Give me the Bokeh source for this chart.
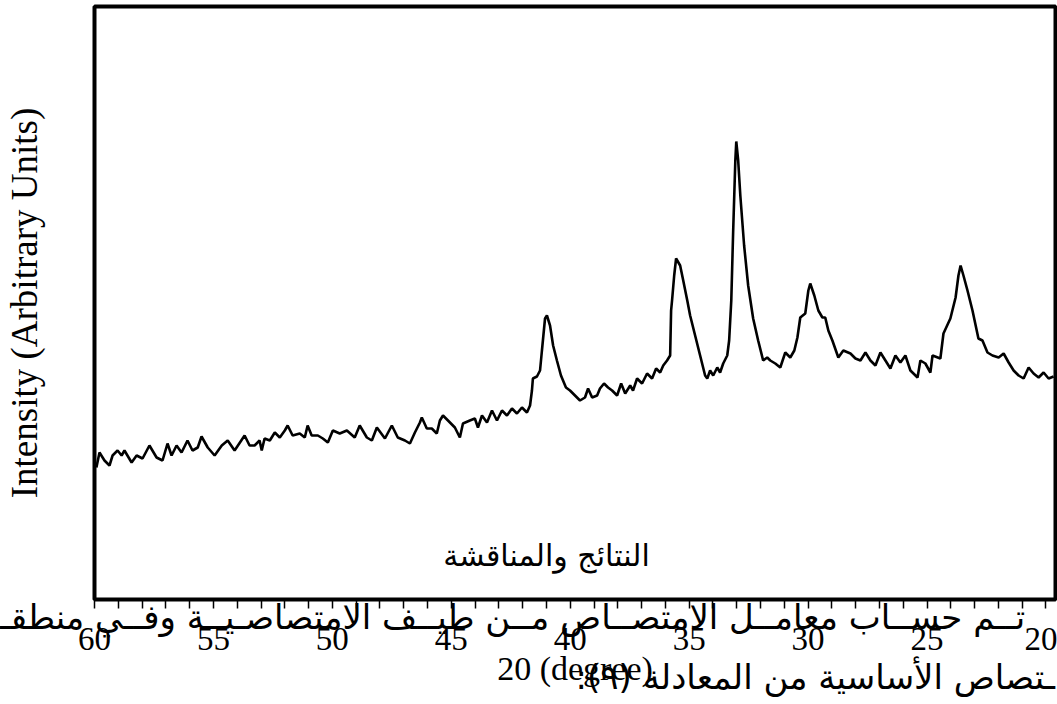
from bokeh.plotting import figure
from bokeh.models import Range1d, FixedTicker, Label, ColumnDataSource, LinearAxis
from bokeh.embed import file_html
from bokeh.resources import INLINE

# ---- data (2theta in degrees, intensity in arbitrary units) ----
two_theta = [
    59.92, 59.79, 59.58, 59.37, 59.24, 59.03, 58.86, 58.74, 58.44, 58.23, 57.98, 57.69,
    57.39, 57.14, 56.93, 56.76, 56.55, 56.34, 56.09, 55.88, 55.66, 55.50, 55.24, 54.95,
    54.65, 54.40, 54.11, 53.69, 53.48, 53.27, 53.06, 52.97, 52.85, 52.63, 52.42, 52.21,
    52.00, 51.88, 51.67, 51.37, 51.16, 51.04, 50.87, 50.61, 50.40, 50.19, 49.98, 49.69,
    49.39, 49.06, 48.85, 48.55, 48.34, 48.13, 47.79, 47.50, 47.25, 46.95, 46.74, 46.53,
    46.32, 46.24, 46.03, 45.82, 45.61, 45.48, 45.35, 45.14, 44.85, 44.64, 44.51, 44.22,
    44.01, 43.88, 43.71, 43.50, 43.29, 43.08, 42.87, 42.66, 42.45, 42.24, 42.03, 41.82,
    41.69, 41.61, 41.57, 41.40, 41.27, 41.19, 41.06, 40.98, 40.85, 40.72, 40.56, 40.39,
    40.18, 40.01, 39.80, 39.59, 39.38, 39.25, 39.08, 38.87, 38.75, 38.58, 38.41, 38.24,
    38.03, 37.86, 37.69, 37.48, 37.36, 37.19, 36.98, 36.77, 36.56, 36.39, 36.22, 36.09,
    35.93, 35.80, 35.76, 35.72, 35.63, 35.55, 35.38, 35.25, 35.08, 34.96, 34.75, 34.54,
    34.33, 34.24, 34.12, 33.99, 33.82, 33.70, 33.57, 33.40, 33.32, 33.23, 33.15, 33.06,
    33.02, 32.94, 32.85, 32.69, 32.52, 32.31, 32.10, 31.89, 31.72, 31.59, 31.38, 31.17,
    30.96, 30.75, 30.58, 30.45, 30.33, 30.12, 29.99, 29.91, 29.74, 29.57, 29.40, 29.28,
    29.15, 28.98, 28.73, 28.52, 28.22, 28.01, 27.80, 27.59, 27.38, 27.17, 26.96, 26.75,
    26.54, 26.33, 26.12, 25.91, 25.70, 25.40, 25.28, 25.07, 24.86, 24.77, 24.44, 24.31,
    24.02, 23.80, 23.68, 23.59, 23.47, 23.30, 23.09, 22.84, 22.67, 22.46, 22.25, 21.99,
    21.78, 21.57, 21.36, 21.15, 20.94, 20.73, 20.52, 20.31, 20.10, 19.89, 19.68,
]
intensity = [
    131, 146, 138, 133, 143, 148, 143, 148, 136, 143, 140, 153,
    141, 138, 155, 143, 153, 146, 158, 148, 151, 162, 151, 143,
    153, 158, 148, 163, 153, 153, 158, 148, 160, 158, 166, 161,
    168, 173, 163, 165, 161, 173, 163, 163, 160, 156, 168, 165,
    168, 161, 173, 161, 158, 171, 160, 173, 161, 158, 155, 166,
    176, 181, 170, 170, 165, 178, 183, 178, 171, 161, 175, 178,
    180, 171, 183, 176, 188, 178, 188, 183, 190, 185, 191, 186,
    193, 208, 220, 222, 228, 248, 280, 283, 273, 253, 238, 223,
    211, 208, 203, 198, 201, 210, 201, 203, 210, 215, 211, 208,
    203, 215, 205, 213, 208, 220, 215, 225, 220, 230, 226, 233,
    238, 243, 288, 298, 323, 340, 333, 318, 298, 283, 263, 243,
    223, 220, 228, 223, 231, 226, 235, 243, 258, 298, 368, 438,
    457, 438, 403, 353, 313, 280, 258, 238, 241, 238, 235, 231,
    246, 241, 248, 261, 281, 285, 308, 315, 303, 288, 281, 281,
    268, 258, 241, 248, 245, 240, 238, 246, 238, 233, 246, 238,
    230, 243, 236, 243, 228, 221, 238, 235, 226, 243, 240, 265,
    280, 301, 323, 333, 323, 308, 288, 260, 258, 246, 243, 241,
    245, 236, 228, 223, 220, 231, 225, 221, 226, 220, 222,
]
major_ticks = [60, 55, 50, 45, 40, 35, 30, 25, 20]
degree_marks = list(range(20, 61))
x_title = "20 (degree)"
y_title = "Intensity (Arbitrary Units)"
heading = "النتائج والمناقشة"
body_line1 = "تــم حســاب معامــل الامتصــاص مــن طيــف الامتصاصـيــة وفــي منطقــة"
body_line2 = "ـتصاص الأساسية من المعادلة (٩):\u200f"
line1_anchor = 43      # 2theta tick that carries the first page line
line2_anchor = 29.7    # 2theta tick that carries the second page line

W, H = 1057, 704
p = figure(width=W, height=H, output_backend="svg", toolbar_location=None,
           x_range=Range1d(60, 19.6), y_range=Range1d(-1, 592),
           min_border_left=94, min_border_right=2, min_border_top=6,
           min_border_bottom=105)
p.background_fill_color = "white"
p.border_fill_color = "white"
p.grid.visible = False
p.outline_line_color = "black"
p.outline_line_width = 4

src = ColumnDataSource(dict(x=two_theta, y=intensity))
p.line("x", "y", source=src, line_color="black", line_width=2.6)

# axis A: degree tick marks + first page line of text (overlapping, as in the scan)
axA = p.xaxis[0]
axA.ticker = FixedTicker(ticks=degree_marks)
axA.axis_line_color = None
axA.major_tick_in = 0
axA.major_tick_out = 9
axA.minor_tick_line_color = None
axA.major_tick_line_color = "black"
axA.major_tick_line_width = 1.5
axA.major_label_overrides = {t: "" for t in degree_marks if t != line1_anchor} | {line1_anchor: body_line1}
axA.major_label_text_font = "DejaVu Sans"
axA.major_label_text_font_size = "34px"
axA.major_label_text_color = "black"
axA.major_label_standoff = -12

# axis B: numeric tick labels and axis title
axB = LinearAxis(ticker=FixedTicker(ticks=major_ticks))
axB.axis_line_color = None
axB.major_tick_line_color = None
axB.minor_tick_line_color = None
axB.major_tick_out = 0
axB.major_tick_in = 0
axB.major_label_text_font = "Liberation Serif"
axB.major_label_text_font_size = "33px"
axB.major_label_text_color = "black"
axB.major_label_standoff = -12
axB.axis_label = x_title
axB.axis_label_text_font = "Liberation Serif"
axB.axis_label_text_font_size = "34px"
axB.axis_label_text_font_style = "normal"
axB.axis_label_text_color = "black"
axB.axis_label_standoff = -3
p.add_layout(axB, "below")

# axis C: second page line of text
axC = LinearAxis(ticker=FixedTicker(ticks=[line2_anchor]))
axC.axis_line_color = None
axC.major_tick_line_color = None
axC.minor_tick_line_color = None
axC.major_tick_out = 0
axC.major_tick_in = 0
axC.major_label_overrides = {line2_anchor: body_line2}
axC.major_label_text_font = "DejaVu Sans"
axC.major_label_text_font_size = "34px"
axC.major_label_text_color = "black"
axC.major_label_standoff = -33
p.add_layout(axC, "below")

ay = p.yaxis[0]
ay.ticker = FixedTicker(ticks=[])
ay.axis_line_color = None
ay.major_tick_line_color = None
ay.minor_tick_line_color = None
ay.axis_label = y_title
ay.axis_label_text_font = "Liberation Serif"
ay.axis_label_text_font_size = "37px"
ay.axis_label_text_font_style = "normal"
ay.axis_label_text_color = "black"
ay.axis_label_standoff = 50

p.add_layout(Label(x=41.0, y=43, text=heading, text_font="DejaVu Sans",
                   text_font_size="30px", text_align="center", text_baseline="middle",
                   text_color="black"))

open("out.html", "w").write(file_html(p, INLINE))
